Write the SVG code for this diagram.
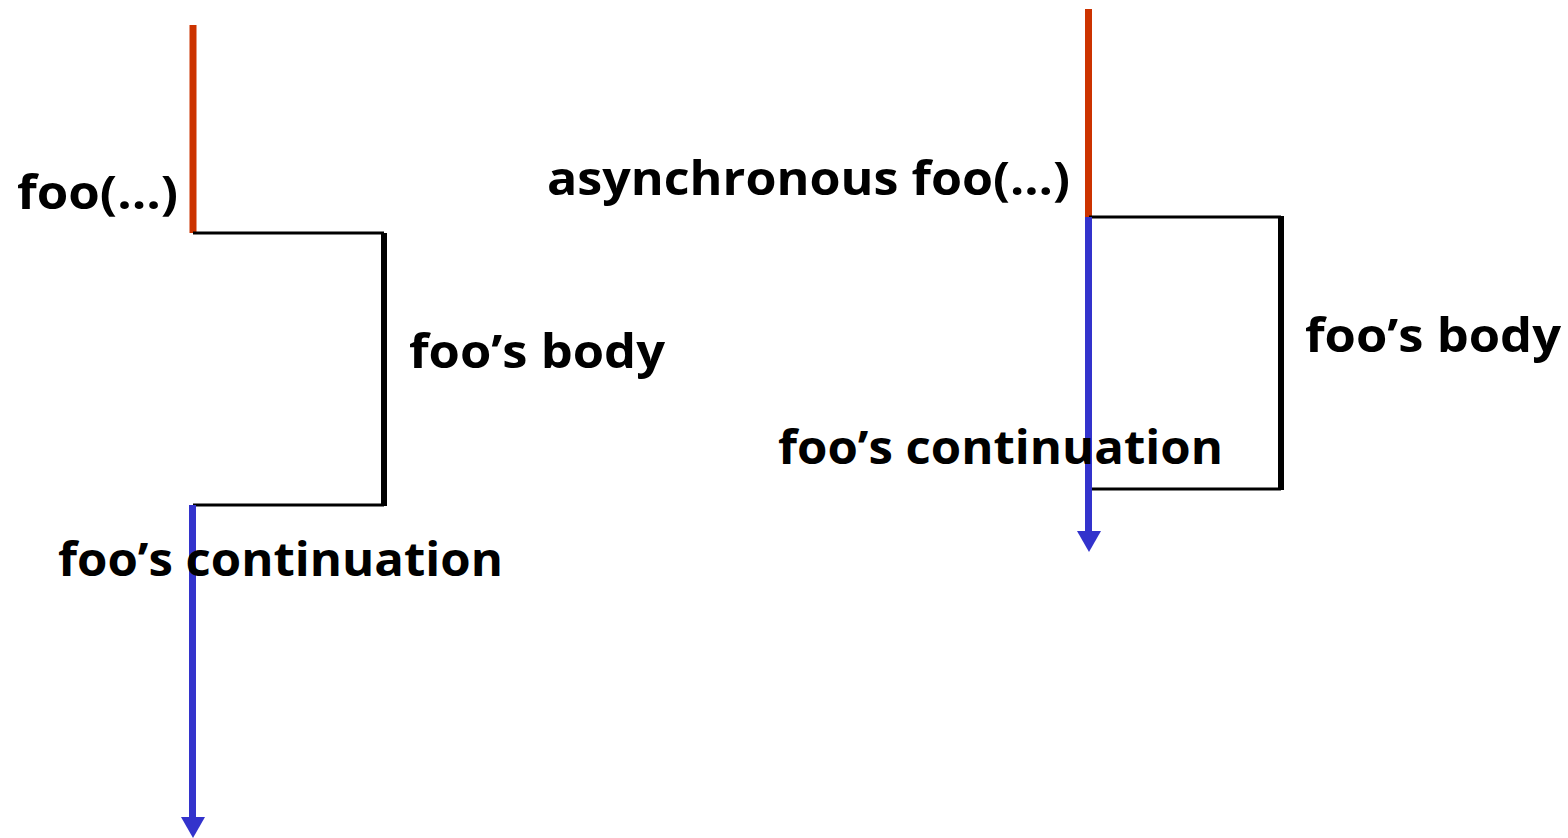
<svg xmlns="http://www.w3.org/2000/svg" width="1568" height="838" viewBox="0 0 1568 838">
  <style>
    .lbl { font-family: "Open Sans", "Noto Sans", "DejaVu Sans", sans-serif; font-weight: bold; font-size: 46px; fill: #000; }
    .call { stroke: #CC3300; stroke-width: 7; fill: none; }
    .cont { stroke: #3333CC; stroke-width: 7; fill: none; }
    .body { stroke: #000; stroke-width: 3; fill: none; }
    .bodyside { stroke: #000; stroke-width: 6; fill: none; }
  </style>
  <defs>
    <!-- arrowhead, tip at the origin -->
    <path id="head" d="M-12,-21 L12,-21 L0,0 Z" fill="#3333CC"/>
  </defs>

  <g id="connectors">
    <!-- synchronous call -->
    <line class="call" x1="193" y1="25" x2="193" y2="233"/>
    <line class="body" x1="193" y1="233" x2="384" y2="233"/>
    <line class="bodyside" x1="384" y1="233" x2="384" y2="506"/>
    <line class="body" x1="193" y1="505" x2="384" y2="505"/>
    <line class="cont" x1="192.5" y1="505" x2="192.5" y2="818"/>
    <use href="#head" x="193" y="838"/>

    <!-- asynchronous call -->
    <line class="call" x1="1088.5" y1="9" x2="1088.5" y2="217"/>
    <line class="body" x1="1089" y1="217" x2="1281" y2="217"/>
    <line class="bodyside" x1="1281" y1="216" x2="1281" y2="490"/>
    <line class="body" x1="1089" y1="489" x2="1281" y2="489"/>
    <line class="cont" x1="1088.5" y1="217" x2="1088.5" y2="531"/>
    <use href="#head" x="1089" y="552"/>
  </g>

  <g id="sync-call-label"><text class="lbl" x="17" y="209" textLength="161" lengthAdjust="spacingAndGlyphs">foo(…)</text></g>
  <g id="sync-body-label"><text class="lbl" x="409" y="368" textLength="256" lengthAdjust="spacingAndGlyphs">foo’s body</text></g>
  <g id="sync-cont-label"><text class="lbl" x="58" y="576" textLength="445" lengthAdjust="spacingAndGlyphs">foo’s continuation</text></g>

  <g id="async-call-label"><text class="lbl" x="547" y="195" textLength="523" lengthAdjust="spacingAndGlyphs">asynchronous foo(…)</text></g>
  <g id="async-body-label"><text class="lbl" x="1305" y="352" textLength="256" lengthAdjust="spacingAndGlyphs">foo’s body</text></g>
  <g id="async-cont-label"><text class="lbl" x="778" y="464" textLength="445" lengthAdjust="spacingAndGlyphs">foo’s continuation</text></g>
</svg>
